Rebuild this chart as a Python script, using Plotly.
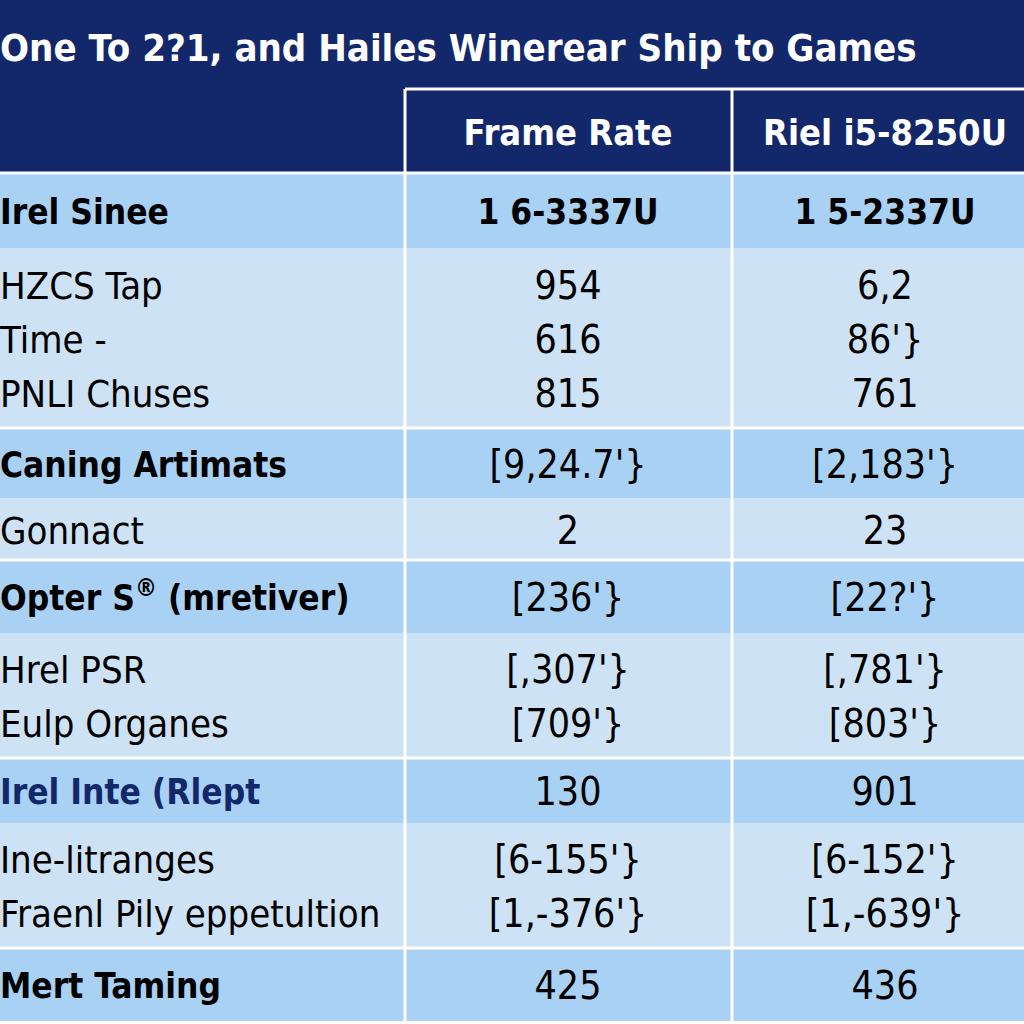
import plotly.graph_objects as go

# table content
TITLE = "One To 2?1, and Hailes Winerear Ship to Games"
COLUMNS = ["Frame Rate", "Riel i5-8250U"]
ROW_LABELS = [
    ["Irel Sinee"],
    ["HZCS Tap", "Time -", "PNLI Chuses"],
    ["Caning Artimats"],
    ["Gonnact"],
    ["Opter S<sup>®</sup> (mretiver)"],
    ["Hrel PSR", "Eulp Organes"],
    ["Irel Inte (Rlept"],
    ["Ine-litranges", "Fraenl Pily eppetultion"],
    ["Mert Taming"],
]
FRAME_RATE = [
    ["1 6-3337U"],
    ["954", "616", "815"],
    ["[9,24.7'}"],
    ["2"],
    ["[236'}"],
    ["[,307'}", "[709'}"],
    ["130"],
    ["[6-155'}", "[1,-376'}"],
    ["425"],
]
RIEL = [
    ["1 5-2337U"],
    ["6,2", "86'}", "761"],
    ["[2,183'}"],
    ["23"],
    ["[22?'}"],
    ["[,781'}", "[803'}"],
    ["901"],
    ["[6-152'}", "[1,-639'}"],
    ["436"],
]
HEADLINE = [True, False, True, False, True, False, True, False, True]

# layout (pixel units on a 1024 canvas)
ROW_EDGES = [173, 248, 428, 498, 560, 633, 758, 823, 948, 1021]
COL_EDGES = [0, 405, 732, 1024]
COL_CENTERS = [568, 885]
HEADER_TOP = 89
LINE_GAP = 54
TEXT_DY = 5  # nudge so glyphs sit where the reference has them

NAVY = "#13286a"
DARK = "#a9d1f3"
LIGHT = "#cde2f4"
FONT = "DejaVu Sans Condensed, Roboto, sans-serif"

fig = go.Figure()
shapes = [dict(type="rect", x0=0, x1=1024, y0=0, y1=ROW_EDGES[0],
               fillcolor=NAVY, line_width=0, layer="below")]
for i, head in enumerate(HEADLINE):
    shapes.append(dict(type="rect", x0=0, x1=1024, y0=ROW_EDGES[i], y1=ROW_EDGES[i + 1],
                       fillcolor=DARK if head else LIGHT, line_width=0, layer="below"))
    if head:
        shapes.append(dict(type="line", x0=0, x1=1024, y0=ROW_EDGES[i], y1=ROW_EDGES[i],
                           line=dict(color="white", width=3)))
shapes.append(dict(type="line", x0=COL_EDGES[1], x1=1024, y0=HEADER_TOP, y1=HEADER_TOP,
                   line=dict(color="white", width=3)))
for x in COL_EDGES[1:3]:
    shapes.append(dict(type="line", x0=x, x1=x, y0=HEADER_TOP, y1=ROW_EDGES[-1],
                       line=dict(color="white", width=3)))


def line_ys(i, n):
    mid = (ROW_EDGES[i] + ROW_EDGES[i + 1]) / 2 + TEXT_DY
    return [mid + (k - (n - 1) / 2) * LINE_GAP for k in range(n)]


def add_text(xs, ys, texts, size, color, weight, pos):
    fig.add_trace(go.Scatter(
        x=xs, y=ys, text=texts, mode="text", textposition=pos,
        textfont=dict(family=FONT, size=size, color=color, weight=weight),
        showlegend=False, hoverinfo="skip", cliponaxis=False))


# title and column headers
add_text([0], [46 + TEXT_DY], [TITLE], 38, "white", "bold", "middle right")
add_text(COL_CENTERS, [131 + TEXT_DY] * 2, COLUMNS, 36, "white", "bold", "middle center")

for i, head in enumerate(HEADLINE):
    ys = line_ys(i, len(ROW_LABELS[i]))
    label_color = NAVY if i == 6 else "black"
    if head:
        add_text([0] * len(ys), ys, ROW_LABELS[i], 35, label_color, "bold", "middle right")
    else:
        add_text([0] * len(ys), ys, ROW_LABELS[i], 38, "black", "normal", "middle right")
    for cx, col in zip(COL_CENTERS, [FRAME_RATE, RIEL]):
        if i == 0:
            add_text([cx], ys, col[i], 35, "black", "bold", "middle center")
        else:
            add_text([cx] * len(ys), ys, col[i], 39, "black", "normal", "middle center")

fig.update_layout(
    width=1024, height=1024,
    margin=dict(l=0, r=0, t=0, b=0),
    paper_bgcolor="white", plot_bgcolor="white",
    shapes=shapes,
    xaxis=dict(range=[0, 1024], visible=False, fixedrange=True),
    yaxis=dict(range=[1024, 0], visible=False, fixedrange=True),
)
fig.write_html("out.html", config={"displayModeBar": False},
               post_script="document.body.style.margin = '0';")
